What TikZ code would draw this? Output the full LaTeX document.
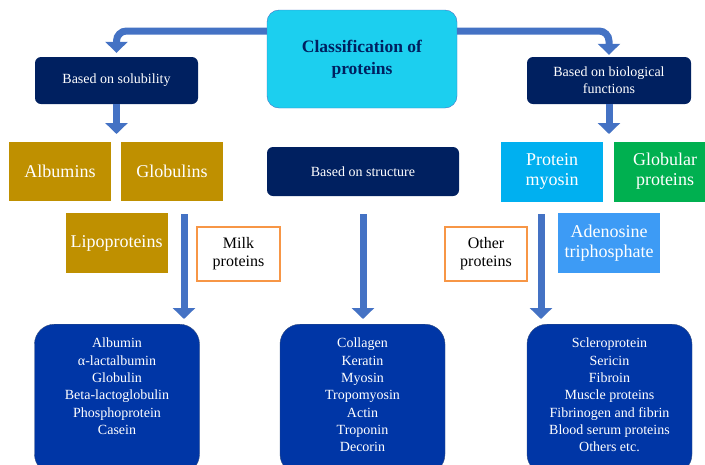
\documentclass[tikz,border=0pt]{standalone}
\usepackage{fontspec}
\setmainfont{Liberation Serif}
\usetikzlibrary{arrows.meta}

\definecolor{navy}{HTML}{002060}
\definecolor{gold}{HTML}{BF9000}
\definecolor{skyblue}{HTML}{00B0F0}
\definecolor{leafgreen}{HTML}{00B050}
\definecolor{atpblue}{HTML}{3D9BF5}
\definecolor{cyanfill}{HTML}{1CCFEF}
\definecolor{listblue}{HTML}{0036A6}
\definecolor{arrowblue}{HTML}{4472C4}
\definecolor{orangeline}{HTML}{F79646}

\newcommand{\listtext}[1]{\parbox[c][150pt][t]{160pt}{\centering\fontsize{14}{17.3}\selectfont\vspace*{14pt}#1}}

\begin{document}
\begin{tikzpicture}[x=1pt,y=-1pt,
  every node/.style={inner sep=0pt},
  titlebox/.style={draw=arrowblue,fill=cyanfill,rounded corners=12pt,minimum width=190pt,minimum height=98pt,align=center,text=navy,font=\fontsize{17.5}{22}\selectfont\bfseries},
  headbox/.style={fill=navy,rounded corners=6pt,minimum height=47pt,align=center,text=white,font=\fontsize{14}{17}\selectfont},
  tagbox/.style={minimum width=102pt,align=center,text=white,font=\fontsize{18}{20}\selectfont},
  notebox/.style={draw=orangeline,line width=2pt,fill=white,minimum height=54pt,align=center,font=\fontsize{16}{18}\selectfont},
  listbox/.style={fill=listblue,draw=navy!80,rounded corners=20pt,minimum width=165pt,minimum height=150pt,anchor=north,text=white},
  bigarrow/.style={draw=arrowblue,line width=7pt,-{Triangle[width=22pt,length=11pt]}}]
\useasboundingbox (0,0) rectangle (705,464);

% top level
\node[titlebox] (main) at (362,59) {Classification of\\proteins};
\node[headbox,minimum width=163pt] (sol) at (116.5,80.5) {Based on solubility};
\node[headbox,minimum width=164pt] (bio) at (609,80.5) {Based on biological\\functions};
\node[headbox,minimum width=192pt,minimum height=49pt] (struct) at (363,171.5) {Based on structure};

% groups
\node[tagbox,fill=gold,minimum height=59pt] (alb) at (60,171.5) {Albumins};
\node[tagbox,fill=gold,minimum height=59pt] (glob) at (172,171.5) {Globulins};
\node[tagbox,fill=gold,minimum height=60pt] (lipo) at (116.5,243) {Lipoproteins};
\node[tagbox,fill=skyblue,minimum height=60pt] (myo) at (552,171.5) {Protein\\myosin};
\node[tagbox,fill=leafgreen,minimum height=60pt] (globp) at (665,171.5) {Globular\\proteins};
\node[tagbox,fill=atpblue,minimum height=60pt] (atp) at (609,243) {Adenosine\\triphosphate};
\node[notebox,minimum width=83pt] (milk) at (238.5,254) {Milk\\proteins};
\node[notebox,minimum width=82pt] (other) at (486,254) {Other\\proteins};

% lists
\node[listbox] (sollist) at (117,324) {\listtext{Albumin\\α-lactalbumin\\Globulin\\Beta-lactoglobulin\\Phosphoprotein\\Casein}};
\node[listbox] (structlist) at (362.5,324) {\listtext{Collagen\\Keratin\\Myosin\\Tropomyosin\\Actin\\Troponin\\Decorin}};
\node[listbox] (biolist) at (609.5,324) {\listtext{Scleroprotein\\Sericin\\Fibroin\\Muscle proteins\\Fibrinogen and fibrin\\Blood serum proteins\\Others etc.}};

% arrows
\draw[bigarrow,rounded corners=10pt] ([yshift=28pt]main.west) -| ([yshift=4pt]sol.north);
\draw[bigarrow,rounded corners=10pt] ([yshift=28pt]main.east) -| ([yshift=2pt]bio.north);

\coordinate (solgap) at (116.5,134);
\coordinate (biogap) at (609,134);
\draw[bigarrow] (sol.south) -- (solgap);
\draw[bigarrow] (bio.south) -- (biogap);

\coordinate (milkstem) at (184,214);
\coordinate (structstem) at (363,214);
\coordinate (otherstem) at (541,214);
\draw[bigarrow,shorten >=5pt] (milkstem) -- (milkstem |- sollist.north);
\draw[bigarrow,shorten >=5pt] (structstem) -- (structstem |- structlist.north);
\draw[bigarrow,shorten >=5pt] (otherstem) -- (otherstem |- biolist.north);
\end{tikzpicture}
\end{document}
